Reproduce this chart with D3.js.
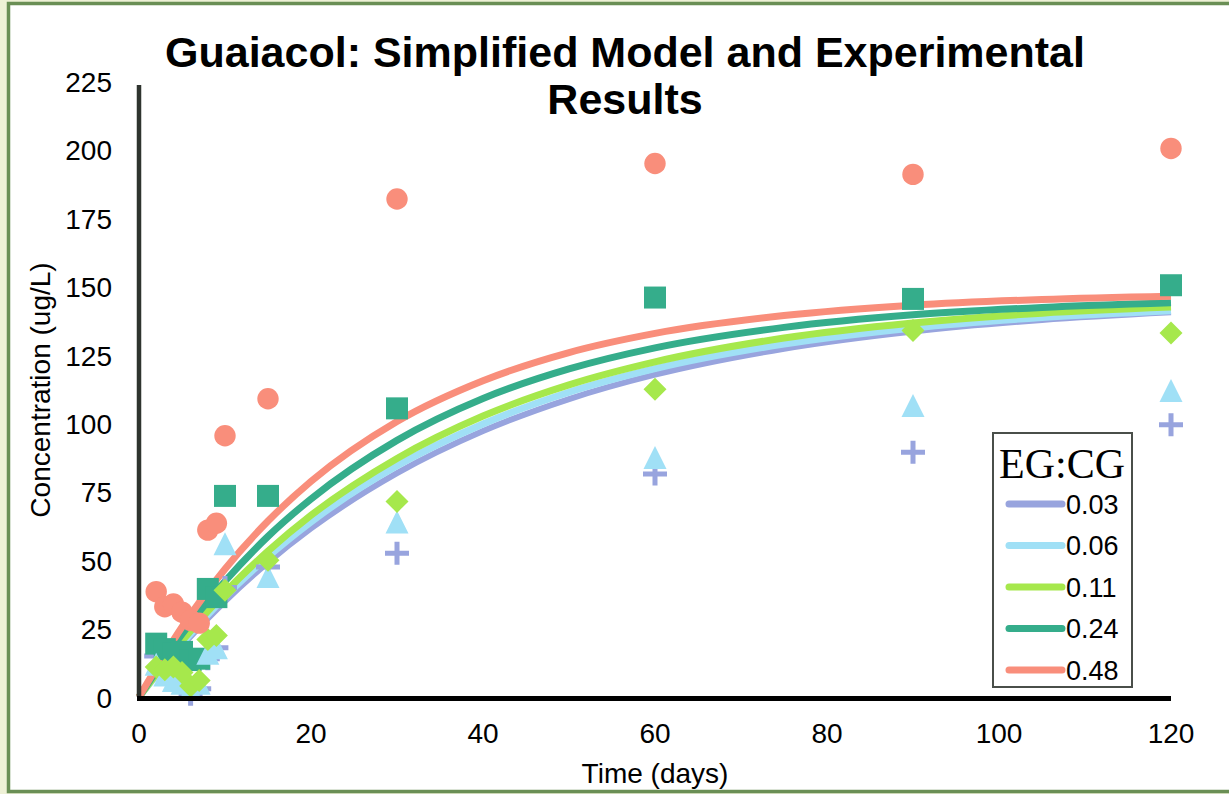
<!DOCTYPE html>
<html lang="en">
<head>
<meta charset="utf-8">
<title>Guaiacol model vs experiment</title>
<script src="https://cdn.jsdelivr.net/npm/d3@7"></script>
<style>
  body { margin: 0; background: #eef1d6; }
  svg { display: block; }
</style>
</head>
<body>
<script>
// ratios (EG:CG) and their colours
var ratios = ["0.03", "0.06", "0.11", "0.24", "0.48"];
var colors = ["#98a4de", "#a0e0f6", "#a6e84c", "#35ad8b", "#f98e7b"];

// measured concentrations (ug/L)
var sampleDays = [2, 3, 4, 5, 6, 7, 8, 9, 10, 15, 30, 60, 90, 120];
var meas003 = [15, 9, 7, 3, 1, 3, 14, 18, 40, 47.5, 52.5, 81.5, 89.5, 99.5];
var meas006 = [12, 8, 6, 5, 3, 5, 16, 18, 56, 44, 64, 87.5, 106.5, 112];
var meas011 = [11, 10, 11, 9, 4, 6, 21, 22.5, 39, 50, 71.5, 112.5, 134, 133];
var meas024 = [19.5, 17.5, 16, 16.5, 13.5, 14, 39.5, 36.5, 73.5, 73.5, 105.5, 146, 145.5, 150.5];
var meas048 = [38.5, 33, 34, 31, 28, 27, 61, 63.5, 95.5, 109, 182, 195, 191, 200.5];

// simplified model curves
var modelDays = [0, 5, 10, 15, 20, 30, 40, 50, 60, 75, 90, 105, 120];
var model003 = [0, 18.7, 35.0, 49.2, 61.6, 81.8, 97.2, 108.9, 117.8, 127.3, 133.6, 137.8, 140.6];
var model006 = [0, 19.6, 36.6, 51.3, 64.0, 84.5, 99.8, 111.4, 120.0, 129.0, 134.9, 138.7, 141.2];
var model011 = [0, 20.5, 38.2, 53.3, 66.4, 87.2, 102.7, 114.1, 122.5, 131.2, 136.7, 140.3, 142.5];
var model024 = [0, 23.0, 42.3, 58.7, 72.4, 93.8, 109.1, 119.9, 127.6, 135.1, 139.7, 142.4, 144.1];
var model048 = [0, 25.6, 46.8, 64.3, 78.8, 100.7, 115.6, 125.9, 132.9, 139.4, 143.2, 145.3, 146.5];

var xTicks = [0, 20, 40, 60, 80, 100, 120];
var yTicks = [0, 25, 50, 75, 100, 125, 150, 175, 200, 225];

var W = 1229, H = 794;
var svg = d3.select("body").append("svg")
  .attr("width", W).attr("height", H)
  .style("font-family", "'Liberation Sans', Arial, sans-serif");

svg.append("rect").attr("width", W).attr("height", H).attr("fill", "#eef1d6");
svg.append("rect")
  .attr("x", 8.5).attr("y", 3.5).attr("width", 1260).attr("height", 788)
  .attr("fill", "#ffffff").attr("stroke", "#6a8f55").attr("stroke-width", 3.5);

var x = d3.scaleLinear().domain([0, 120]).range([139, 1171]);
var y = d3.scaleLinear().domain([0, 225]).range([697, 81.4]);

// title
var title = svg.append("text")
  .attr("text-anchor", "middle")
  .attr("font-weight", "bold").attr("font-size", 43).attr("fill", "#000");
title.append("tspan").attr("x", 625).attr("y", 67).text("Guaiacol: Simplified Model and Experimental");
title.append("tspan").attr("x", 625).attr("y", 114).text("Results");

// tick labels
svg.append("g").selectAll("text").data(yTicks).enter().append("text")
  .attr("x", 112).attr("y", function(d) { return y(d) + 10.5; })
  .attr("text-anchor", "end").attr("font-size", 28)
  .text(function(d) { return d; });

svg.append("g").selectAll("text").data(xTicks).enter().append("text")
  .attr("x", function(d) { return x(d); }).attr("y", 743)
  .attr("text-anchor", "middle").attr("font-size", 28)
  .text(function(d) { return d; });

// axis titles
svg.append("text").attr("x", 655).attr("y", 783)
  .attr("text-anchor", "middle").attr("font-size", 28).text("Time (days)");
svg.append("text")
  .attr("transform", "translate(50,390) rotate(-90)")
  .attr("text-anchor", "middle").attr("font-size", 28).text("Concentration (ug/L)");

// model lines
var models = [model003, model006, model011, model024, model048];
var line = d3.line()
  .x(function(d, i) { return x(modelDays[i]); })
  .y(function(d) { return y(d); })
  .curve(d3.curveMonotoneX);

svg.append("g").selectAll("path").data(models).enter().append("path")
  .attr("d", line)
  .attr("fill", "none")
  .attr("stroke", function(d, i) { return colors[i]; })
  .attr("stroke-width", function(d, i) { return i === 0 ? 6 : 7; });

// markers
function markerPath(shape) {
  var p = d3.path();
  if (shape === "circle") {
    p.arc(0, 0, 10.7, 0, 2 * Math.PI);
  } else if (shape === "square") {
    p.rect(-11, -11, 22, 22);
  } else if (shape === "diamond") {
    p.moveTo(0, -11.5); p.lineTo(11.5, 0); p.lineTo(0, 11.5); p.lineTo(-11.5, 0); p.closePath();
  } else if (shape === "triangle") {
    p.moveTo(0, -11.5); p.lineTo(11.5, 11.5); p.lineTo(-11.5, 11.5); p.closePath();
  } else if (shape === "plus") {
    p.moveTo(-12, 0); p.lineTo(12, 0); p.moveTo(0, -11.5); p.lineTo(0, 11.5);
  }
  return p.toString();
}

// drawing order, bottom to top
var markerSeries = [
  { vals: meas003, shape: "plus", color: colors[0] },
  { vals: meas024, shape: "square", color: colors[3] },
  { vals: meas006, shape: "triangle", color: colors[1] },
  { vals: meas011, shape: "diamond", color: colors[2] },
  { vals: meas048, shape: "circle", color: colors[4] }
];

markerSeries.forEach(function(s) {
  svg.append("g").selectAll("path").data(s.vals).enter().append("path")
    .attr("transform", function(d, i) { return "translate(" + x(sampleDays[i]) + "," + y(d) + ")"; })
    .attr("d", markerPath(s.shape))
    .attr("fill", s.shape === "plus" ? "none" : s.color)
    .attr("stroke", s.shape === "plus" ? s.color : "none")
    .attr("stroke-width", 5);
});

// axes lines
svg.append("line").attr("x1", 139).attr("x2", 139).attr("y1", 85).attr("y2", 697)
  .attr("stroke", "#2f342f").attr("stroke-width", 4.5);
svg.append("line").attr("x1", 137).attr("x2", 1171).attr("y1", 698.5).attr("y2", 698.5)
  .attr("stroke", "#000").attr("stroke-width", 5);

// legend
var lg = svg.append("g");
lg.append("rect").attr("x", 993).attr("y", 433).attr("width", 139).attr("height", 254)
  .attr("fill", "#fff").attr("stroke", "#4a4f4a").attr("stroke-width", 2);
lg.append("text").attr("x", 1062).attr("y", 478)
  .attr("text-anchor", "middle").attr("font-family", "'Liberation Serif', 'Times New Roman', serif")
  .attr("font-size", 42).text("EG:CG");
var rows = lg.selectAll("g.row").data(ratios).enter().append("g")
  .attr("transform", function(d, i) { return "translate(0," + (504 + i * 41.5) + ")"; });
rows.append("line").attr("x1", 1009).attr("x2", 1062).attr("y1", 0).attr("y2", 0)
  .attr("stroke", function(d, i) { return colors[i]; })
  .attr("stroke-width", 7).attr("stroke-linecap", "round");
rows.append("text").attr("x", 1066).attr("y", 9.5).attr("font-size", 27)
  .text(function(d) { return d; });
</script>
</body>
</html>
